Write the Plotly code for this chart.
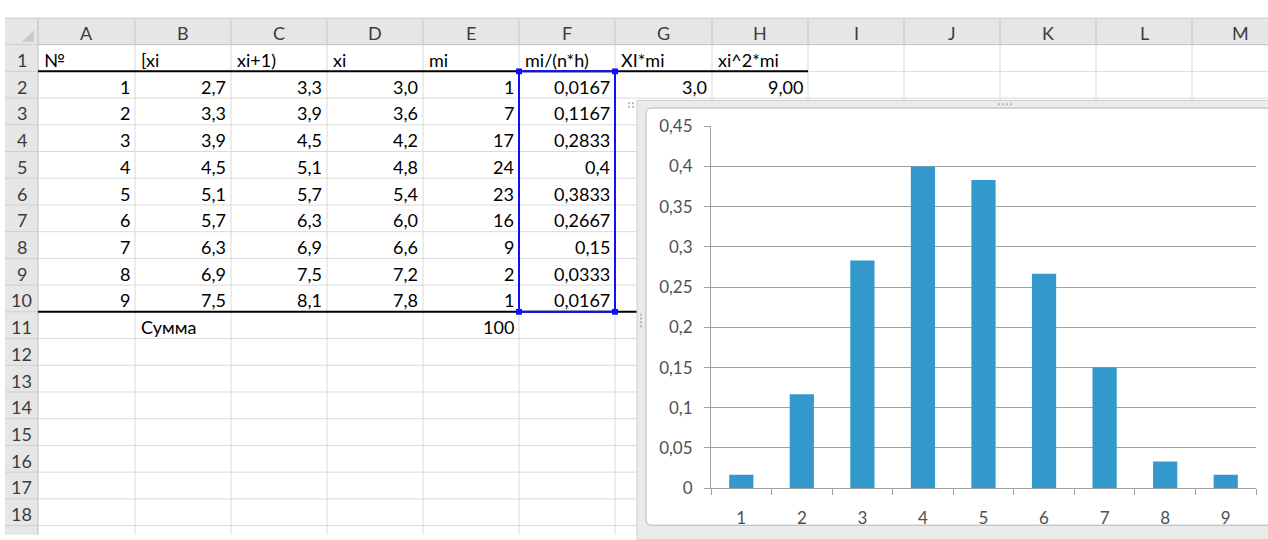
import plotly.graph_objects as go

# ---- spreadsheet contents -------------------------------------------------
col_letters = ["A", "B", "C", "D", "E", "F", "G", "H", "I", "J", "K", "L", "M"]
header_row = ["№", "[xi", "xi+1)", "xi", "mi", "mi/(n*h)", "XI*mi", "xi^2*mi"]
interval_no = [1, 2, 3, 4, 5, 6, 7, 8, 9]
x_left = [2.7, 3.3, 3.9, 4.5, 5.1, 5.7, 6.3, 6.9, 7.5]
x_right = [3.3, 3.9, 4.5, 5.1, 5.7, 6.3, 6.9, 7.5, 8.1]
x_mid = [3.0, 3.6, 4.2, 4.8, 5.4, 6.0, 6.6, 7.2, 7.8]
m_i = [1, 7, 17, 24, 23, 16, 9, 2, 1]
density = [0.0167, 0.1167, 0.2833, 0.4, 0.3833, 0.2667, 0.15, 0.0333, 0.0167]
xm_first = 3.0
x2m_first = 9.00
sum_label = "Сумма"
m_total = 100

# ---- page geometry (pixels) ----------------------------------------------
W, H = 1268, 540
col_edges = [38, 135, 231, 327, 423, 519, 615, 712, 808, 904, 1000, 1096, 1192, 1288]
head_top, head_bot = 8, 35
row_h = 27.8
n_rows = 18
row_edges = [head_bot + i * row_h for i in range(n_rows + 2)]

CELL_FONT = dict(family="Lato, 'Open Sans', sans-serif", size=18, color="#000000")
HEAD_FONT = dict(family="Lato, 'Open Sans', sans-serif", size=18, color="#3c3c3c")
CHART_FONT = dict(family="Lato, 'Open Sans', sans-serif", size=17, color="#505050")


def X(px):
    return px / W


def Y(py):
    return 1 - py / H


shapes = []
annotations = []


def rect(x0, y0, x1, y1, fill, line=None, lw=1):
    shapes.append(dict(type="rect", xref="paper", yref="paper",
                       x0=X(x0), x1=X(x1), y0=Y(y1), y1=Y(y0),
                       fillcolor=fill, line=dict(color=line or fill, width=lw if line else 0),
                       layer="below"))


def hline(x0, x1, y, color, w=1):
    shapes.append(dict(type="line", xref="paper", yref="paper",
                       x0=X(x0), x1=X(x1), y0=Y(y), y1=Y(y),
                       line=dict(color=color, width=w), layer="below"))


def vline(x, y0, y1, color, w=1):
    shapes.append(dict(type="line", xref="paper", yref="paper",
                       x0=X(x), x1=X(x), y0=Y(y0), y1=Y(y1),
                       line=dict(color=color, width=w), layer="below"))


def text(s, x, y, anchor, font):
    annotations.append(dict(text=s, xref="paper", yref="paper", x=X(x), y=Y(y),
                            xanchor=anchor, yanchor="middle", showarrow=False,
                            font=font))


def num1(v):
    return f"{v:.1f}".replace(".", ",")


def cell_text(col, row, s, align):
    """col: 0-based column index, row: 1-based sheet row."""
    yc = (row_edges[row - 1] + row_edges[row]) / 2 + 2
    if align == "right":
        text(s, col_edges[col + 1] - 3, yc, "right", CELL_FONT)
    else:
        text(s, col_edges[col] + 4, yc, "left", CELL_FONT)


# ---- sheet grid -----------------------------------------------------------
GRID = "#dadada"
for e in col_edges[1:]:
    vline(e, head_bot, H + 5, GRID)
for r in row_edges[1:]:
    hline(col_edges[0], W + 5, r, GRID)

# column header band
rect(5, head_top, W + 5, head_bot, "#e6e6e6")
hline(5, W + 5, head_top - 0.5, "#c4c4c4")
hline(5, W + 5, head_bot, "#c0c0c0")
for e in col_edges[1:]:
    vline(e, head_top, head_bot, "#c8c8c8")
# row header band
rect(5, head_bot, col_edges[0], H + 5, "#e6e6e6")
vline(col_edges[0], head_top, H + 5, "#bdbdbd")
for r in row_edges[1:]:
    hline(5, col_edges[0], r, "#cfcfcf")
# select-all corner triangle
shapes.append(dict(type="path", xref="paper", yref="paper",
                   path=f"M {X(22)},{Y(32)} L {X(34)},{Y(32)} L {X(34)},{Y(20)} Z",
                   fillcolor="#cacaca", line=dict(width=0), layer="below"))

for i, c in enumerate(col_letters):
    text(c, (col_edges[i] + col_edges[i + 1]) / 2, (head_top + head_bot) / 2 + 1, "center", HEAD_FONT)
for r in range(1, n_rows + 1):
    text(str(r), 21.5, (row_edges[r - 1] + row_edges[r]) / 2 + 2, "center", HEAD_FONT)

# ---- table values ---------------------------------------------------------
for i, h in enumerate(header_row):
    cell_text(i, 1, h, "left")
for k in range(len(interval_no)):
    row = k + 2
    cell_text(0, row, str(interval_no[k]), "right")
    cell_text(1, row, num1(x_left[k]), "right")
    cell_text(2, row, num1(x_right[k]), "right")
    cell_text(3, row, num1(x_mid[k]), "right")
    cell_text(4, row, str(m_i[k]), "right")
    cell_text(5, row, f"{density[k]:g}".replace(".", ","), "right")
cell_text(6, 2, num1(xm_first), "right")
cell_text(7, 2, f"{x2m_first:.2f}".replace(".", ","), "right")
cell_text(1, 11, sum_label, "left")
cell_text(4, 11, str(m_total), "right")

# thick borders under header row and last data row
hline(col_edges[0], col_edges[8], row_edges[1], "#000000", 2)
hline(col_edges[0], 637, row_edges[10], "#000000", 2)

# selected range F2:F10
sel_x0, sel_x1 = col_edges[5], col_edges[6]
sel_y0, sel_y1 = row_edges[1], row_edges[10]
shapes.append(dict(type="rect", xref="paper", yref="paper",
                   x0=X(sel_x0), x1=X(sel_x1), y0=Y(sel_y1), y1=Y(sel_y0),
                   line=dict(color="#1010ff", width=2), fillcolor="rgba(0,0,0,0)", layer="below"))
for hx in (sel_x0, sel_x1):
    for hy in (sel_y0, sel_y1):
        rect(hx - 3, hy - 3, hx + 3, hy + 3, "#1010ff")

# ---- embedded chart frame -------------------------------------------------
fx0, fy0 = 637, 93
cx0, cy0, cy1 = 646, 101, 535
rect(fx0, fy0, W + 10, H + 10, "#ebebeb", "#cdcdcd", 1)
r = 6
shapes.append(dict(type="path", xref="paper", yref="paper",
                   path=(f"M {X(cx0)},{Y(cy0 + r)} Q {X(cx0)},{Y(cy0)} {X(cx0 + r)},{Y(cy0)} "
                         f"L {X(W + 10)},{Y(cy0)} L {X(W + 10)},{Y(cy1)} "
                         f"L {X(cx0 + r)},{Y(cy1)} Q {X(cx0)},{Y(cy1)} {X(cx0)},{Y(cy1 - r)} Z"),
                   fillcolor="#ffffff", line=dict(color="#b4b4b4", width=1), layer="below"))
# frame grip dots
for gx, gy in [(629, 96), (633, 96), (629, 100), (633, 100),
               (999, 97), (1003, 97), (1007, 97), (1011, 97),
               (641, 316), (641, 320), (641, 324), (641, 328)]:
    rect(gx - 1, gy - 1, gx + 1, gy + 1, "#b8b8b8")

# ---- histogram ------------------------------------------------------------
fig = go.Figure(go.Bar(
    x=[str(n) for n in interval_no],
    y=density,
    marker=dict(color="#3399cc", line=dict(width=0)),
    hoverinfo="x+y",
))

AX = "#a0a0a0"
fig.update_layout(
    width=W, height=H, autosize=False,
    margin=dict(l=0, r=0, t=0, b=0),
    paper_bgcolor="#ffffff",
    plot_bgcolor="rgba(0,0,0,0)",
    separators=", ",
    bargap=0.6,
    showlegend=False,
    shapes=shapes,
    annotations=annotations,
    xaxis=dict(domain=[X(711), X(1256)], type="category",
               showline=True, linecolor=AX, linewidth=1,
               ticks="outside", ticklen=6, tickcolor=AX, tickson="boundaries",
               showgrid=False, tickfont=CHART_FONT, ticklabelstandoff=14,
               fixedrange=True),
    yaxis=dict(domain=[Y(496.5), Y(120)], range=[0, 0.45], dtick=0.05,
               showgrid=True, gridcolor=AX, gridwidth=1,
               showline=True, linecolor=AX, linewidth=1,
               ticks="outside", ticklen=6, tickcolor=AX, zeroline=False,
               tickfont=CHART_FONT, ticklabelstandoff=8, fixedrange=True),
)

fig.write_html("out.html")
